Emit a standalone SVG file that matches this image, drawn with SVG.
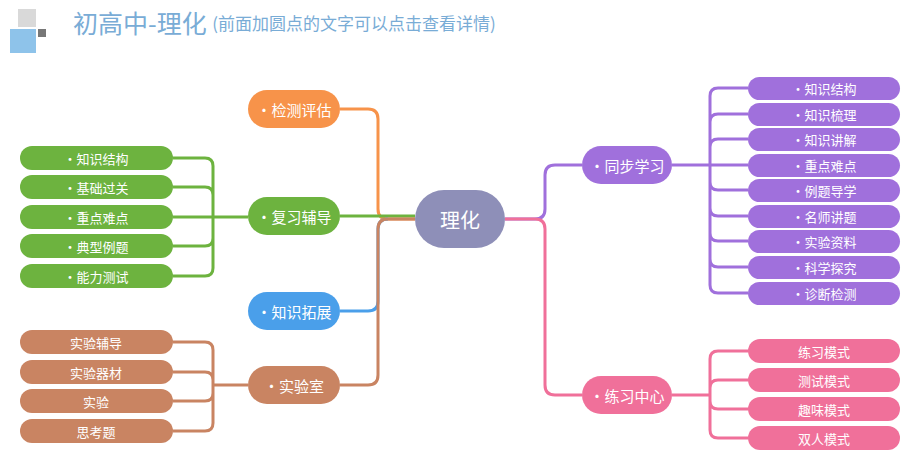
<svg xmlns="http://www.w3.org/2000/svg" width="906" height="459" viewBox="0 0 906 459">
<style>
text{font-family:"Noto Sans CJK SC","Liberation Sans",sans-serif;fill:#fff;text-anchor:middle;dominant-baseline:central}
.m{font-size:15px}.l{font-size:13px}
.c path{fill:none;stroke-width:3;stroke-linejoin:round}
</style>
<rect width="906" height="459" fill="#fff"/>
<g id="title">
<rect x="18" y="9" width="18" height="18" fill="#d9d9d9"/>
<rect x="10" y="29" width="26" height="24" fill="#8ec3ea"/>
<rect x="38" y="29" width="8" height="8" fill="#777"/>
<text x="73" y="22" style="text-anchor:start;font-size:25px;fill:#79acd6">初高中-理化 <tspan style="font-size:17px">(前面加圆点的文字可以点击查看详情)</tspan></text>
</g>
<g class="c">
<path d="M340 109H368Q378 109 378 119V209Q378 219 388 219H415" stroke="#f7934a"/>
<path d="M340 216H415" stroke="#6db33f"/>
<path d="M340 311H368Q378 311 378 301V229Q378 219 388 219" stroke="#4a9fea"/>
<path d="M340 385H368Q378 385 378 375V229Q378 219 388 219H415" stroke="#c98462"/>
<path d="M505 219H535Q545 219 545 209V175Q545 165 555 165H582" stroke="#a070dc"/>
<path d="M505 219H535Q545 219 545 229V385Q545 395 555 395H582" stroke="#f0709a"/>
<path d="M173 158H205Q213 158 213 166V268Q213 276 205 276H173M173 187H205Q213 187 213 195M173 217H248M173 246H205Q213 246 213 238" stroke="#6db33f"/>
<path d="M173 342H205Q213 342 213 350V423Q213 431 205 431H173M173 372H205Q213 372 213 380M173 401H205Q213 401 213 393M213 385H248" stroke="#c98462"/>
<path d="M672 165H710M748 88H718Q710 88 710 96V285Q710 293 718 293H748M748 114H718Q710 114 710 122M748 139H718Q710 139 710 147M748 165H710M748 190H718Q710 190 710 182M748 216H718Q710 216 710 208M748 241H718Q710 241 710 233M748 267H718Q710 267 710 259" stroke="#a070dc"/>
<path d="M672 395H710M748 351H718Q710 351 710 359V430Q710 438 718 438H748M748 380H718Q710 380 710 388M748 409H718Q710 409 710 401" stroke="#f0709a"/>
</g>
<g id="center"><rect x="415" y="190" width="90" height="58" rx="29" fill="#8e8fb8"/><text x="460" y="219" style="font-size:20px">理化</text></g>
<g id="jcpg"><rect x="248" y="90" width="92" height="38" rx="19" fill="#f7934a"/><text class="m" x="294" y="109">·检测评估</text></g>
<g id="fxfd"><rect x="248" y="197" width="92" height="38" rx="19" fill="#6db33f"/><text class="m" x="294" y="216">·复习辅导</text></g>
<g id="zstz"><rect x="248" y="292" width="92" height="38" rx="19" fill="#4a9fea"/><text class="m" x="294" y="311">·知识拓展</text></g>
<g id="syс"><rect x="248" y="366" width="92" height="38" rx="19" fill="#c98462"/><text class="m" x="294" y="385">·实验室</text></g>
<g id="tbxx"><rect x="582" y="146" width="90" height="38" rx="19" fill="#a070dc"/><text class="m" x="627" y="165">·同步学习</text></g>
<g id="lxzx"><rect x="582" y="376" width="90" height="38" rx="19" fill="#f0709a"/><text class="m" x="627" y="395">·练习中心</text></g>
<g id="g1" fill="#6db33f">
<rect x="20" y="146" width="153" height="24" rx="12"/><text class="l" x="96" y="158">·知识结构</text>
<rect x="20" y="175" width="153" height="24" rx="12"/><text class="l" x="96" y="187">·基础过关</text>
<rect x="20" y="205" width="153" height="24" rx="12"/><text class="l" x="96" y="217">·重点难点</text>
<rect x="20" y="234" width="153" height="24" rx="12"/><text class="l" x="96" y="246">·典型例题</text>
<rect x="20" y="264" width="153" height="24" rx="12"/><text class="l" x="96" y="276">·能力测试</text>
</g>
<g id="b1" fill="#c98462">
<rect x="20" y="330" width="153" height="24" rx="12"/><text class="l" x="96" y="342">实验辅导</text>
<rect x="20" y="360" width="153" height="24" rx="12"/><text class="l" x="96" y="372">实验器材</text>
<rect x="20" y="389" width="153" height="24" rx="12"/><text class="l" x="96" y="401">实验</text>
<rect x="20" y="419" width="153" height="24" rx="12"/><text class="l" x="96" y="431">思考题</text>
</g>
<g id="p1" fill="#a070dc">
<rect x="748" y="77" width="152" height="23" rx="11.5"/><text class="l" x="824" y="88">·知识结构</text>
<rect x="748" y="103" width="152" height="23" rx="11.5"/><text class="l" x="824" y="114">·知识梳理</text>
<rect x="748" y="128" width="152" height="23" rx="11.5"/><text class="l" x="824" y="139">·知识讲解</text>
<rect x="748" y="154" width="152" height="23" rx="11.5"/><text class="l" x="824" y="165">·重点难点</text>
<rect x="748" y="179" width="152" height="23" rx="11.5"/><text class="l" x="824" y="190">·例题导学</text>
<rect x="748" y="205" width="152" height="23" rx="11.5"/><text class="l" x="824" y="216">·名师讲题</text>
<rect x="748" y="230" width="152" height="23" rx="11.5"/><text class="l" x="824" y="241">·实验资料</text>
<rect x="748" y="256" width="152" height="23" rx="11.5"/><text class="l" x="824" y="267">·科学探究</text>
<rect x="748" y="282" width="152" height="23" rx="11.5"/><text class="l" x="824" y="293">·诊断检测</text>
</g>
<g id="k1" fill="#f0709a">
<rect x="748" y="339" width="152" height="24" rx="12"/><text class="l" x="824" y="351">练习模式</text>
<rect x="748" y="368" width="152" height="24" rx="12"/><text class="l" x="824" y="380">测试模式</text>
<rect x="748" y="397" width="152" height="24" rx="12"/><text class="l" x="824" y="409">趣味模式</text>
<rect x="748" y="426" width="152" height="24" rx="12"/><text class="l" x="824" y="438">双人模式</text>
</g>
</svg>
